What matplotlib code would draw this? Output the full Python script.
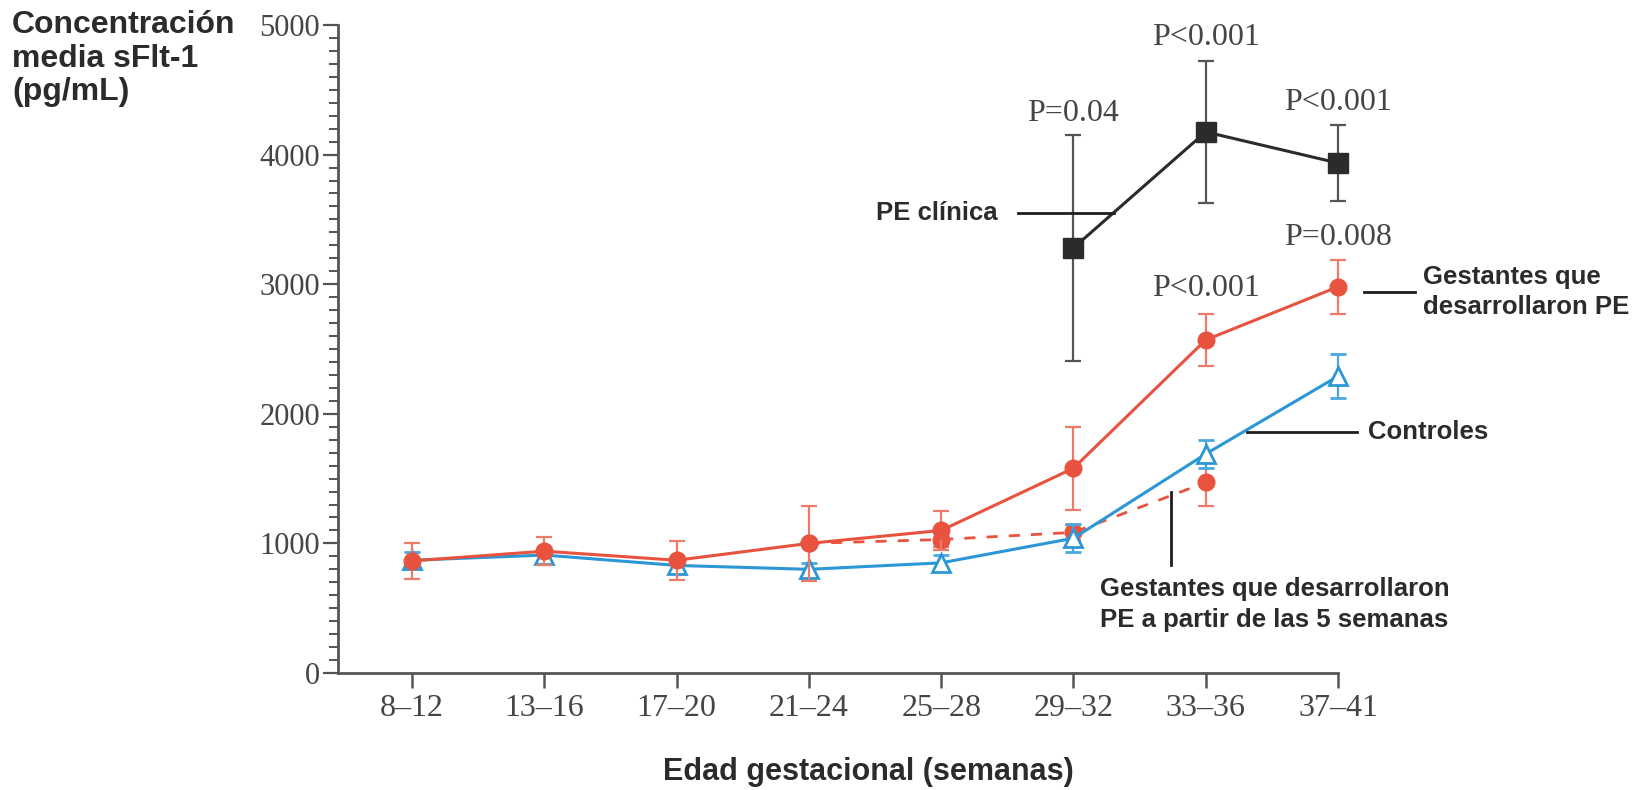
import numpy as np
import matplotlib.pyplot as plt
from matplotlib.ticker import MultipleLocator

# categories (gestational age, weeks)
semanas = ["8–12", "13–16", "17–20", "21–24", "25–28", "29–32", "33–36", "37–41"]
xpos = np.arange(len(semanas))

# controles (blue, open triangles)
controles = [870, 910, 830, 800, 850, 1040, 1690, 2290]
controles_err = [60, 50, 50, 50, 60, 110, 110, 170]

# gestantes que desarrollaron PE (red, solid)
pe = [865, 940, 870, 1000, 1100, 1580, 2570, 2980]
pe_err = [140, 110, 150, 290, 150, 320, 200, 210]

# gestantes que desarrollaron PE a partir de las 5 semanas (red, dashed)
pe5_x = [3, 4, 5, 6]
pe5 = [1000, 1030, 1085, 1470]
pe5_err = [0, 60, 60, 180]

# PE clinica (black squares)
clin_x = [5, 6, 7]
clin = [3280, 4175, 3935]
clin_err = [870, 550, 290]

# p values
p_x = [5, 6, 7, 7, 6]
p_y = [4320, 4900, 4400, 3360, 2970]
p_txt = ["P=0.04", "P<0.001", "P<0.001", "P=0.008", "P<0.001"]

red = "#e8533f"
blue = "#2b97d6"
dark = "#2b2b2b"
gray = "#454545"

fig = plt.figure(figsize=(16.41, 7.90), dpi=100)
ax = fig.add_axes([338 / 1641, 117 / 790, 1000 / 1641, 648 / 790])

# dashed series
ax.errorbar(pe5_x, pe5, yerr=pe5_err, color=red, lw=2, ls=(0, (4, 4)),
            marker="o", ms=12, capsize=6, elinewidth=1.6, capthick=1.6,
            ecolor="#ee7a6a", clip_on=False, zorder=2)

# controles
ax.errorbar(xpos, controles, yerr=controles_err, color=blue, lw=2.2,
            marker="^", ms=13, mfc="white", mec=blue, mew=2, capsize=6,
            elinewidth=1.6, capthick=1.6, ecolor="#4aa8e0", clip_on=False, zorder=3)

# PE
ax.errorbar(xpos, pe, yerr=pe_err, color=red, lw=2.2, marker="o", ms=12,
            capsize=6, elinewidth=1.6, capthick=1.6, ecolor="#ee7a6a",
            clip_on=False, zorder=4)

# PE clinica
ax.errorbar(clin_x, clin, yerr=clin_err, color=dark, lw=2.2, marker="s", ms=14,
            capsize=6, elinewidth=1.6, capthick=1.6, ecolor="#555555",
            clip_on=False, zorder=5)

for x, y, t in zip(p_x, p_y, p_txt):
    ax.text(x, y, t, ha="center", va="center", fontsize=23,
            family="Liberation Serif", color=gray)

# annotation leader lines
ann = dict(color="#1e1e1e", lw=2, clip_on=False, zorder=6)
ax.plot([4.58, 5.31], [3550, 3550], **ann)
ax.plot([7.2, 7.58], [2940, 2940], **ann)
ax.plot([6.31, 7.14], [1860, 1860], **ann)
ax.plot([5.74, 5.74], [1400, 830], **ann)

lab = dict(fontsize=18.5, family="Liberation Sans", weight="bold", color=dark)
ax.text(4.43, 3550, "PE clínica", ha="right", va="center", **lab)
ax.text(7.64, 2940, "Gestantes que\ndesarrollaron PE", ha="left", va="center",
        linespacing=1.3, **lab)
ax.text(7.23, 1860, "Controles", ha="left", va="center", **lab)
ax.text(5.2, 530, "Gestantes que desarrollaron\nPE a partir de las 5 semanas",
        ha="left", va="center", linespacing=1.35, **lab)

# axes styling
ax.set_xlim(-0.56, 7)
ax.set_ylim(0, 5000)
ax.set_xticks(xpos)
ax.set_xticklabels(semanas)
ax.set_yticks([0, 1000, 2000, 3000, 4000, 5000])
ax.yaxis.set_minor_locator(MultipleLocator(100))
for s in ["top", "right"]:
    ax.spines[s].set_visible(False)
for s in ["left", "bottom"]:
    ax.spines[s].set_color("#555555")
    ax.spines[s].set_linewidth(2)
ax.tick_params(axis="x", length=11, width=1.8, color="#555555", pad=4,
               labelsize=23, labelcolor=gray)
ax.tick_params(axis="y", which="major", length=11, width=1.6, color="#555555",
               pad=2, labelsize=22, labelcolor=gray)
ax.tick_params(axis="y", which="minor", length=6.5, width=1.4, color="#555555")
for t in ax.get_xticklabels() + ax.get_yticklabels():
    t.set_family("Liberation Serif")

fig.text(12 / 1641, 1 - 10 / 790, "Concentración\nmedia sFlt-1\n(pg/mL)",
         ha="left", va="top", fontsize=23, family="Liberation Sans",
         weight="bold", color=dark, linespacing=1.16)
fig.text(868 / 1641, 1 - 772 / 790, "Edad gestacional (semanas)", ha="center",
         va="center", fontsize=22, family="Liberation Sans", weight="bold",
         color=dark)

fig.savefig("out.png", dpi=100, facecolor="white")
